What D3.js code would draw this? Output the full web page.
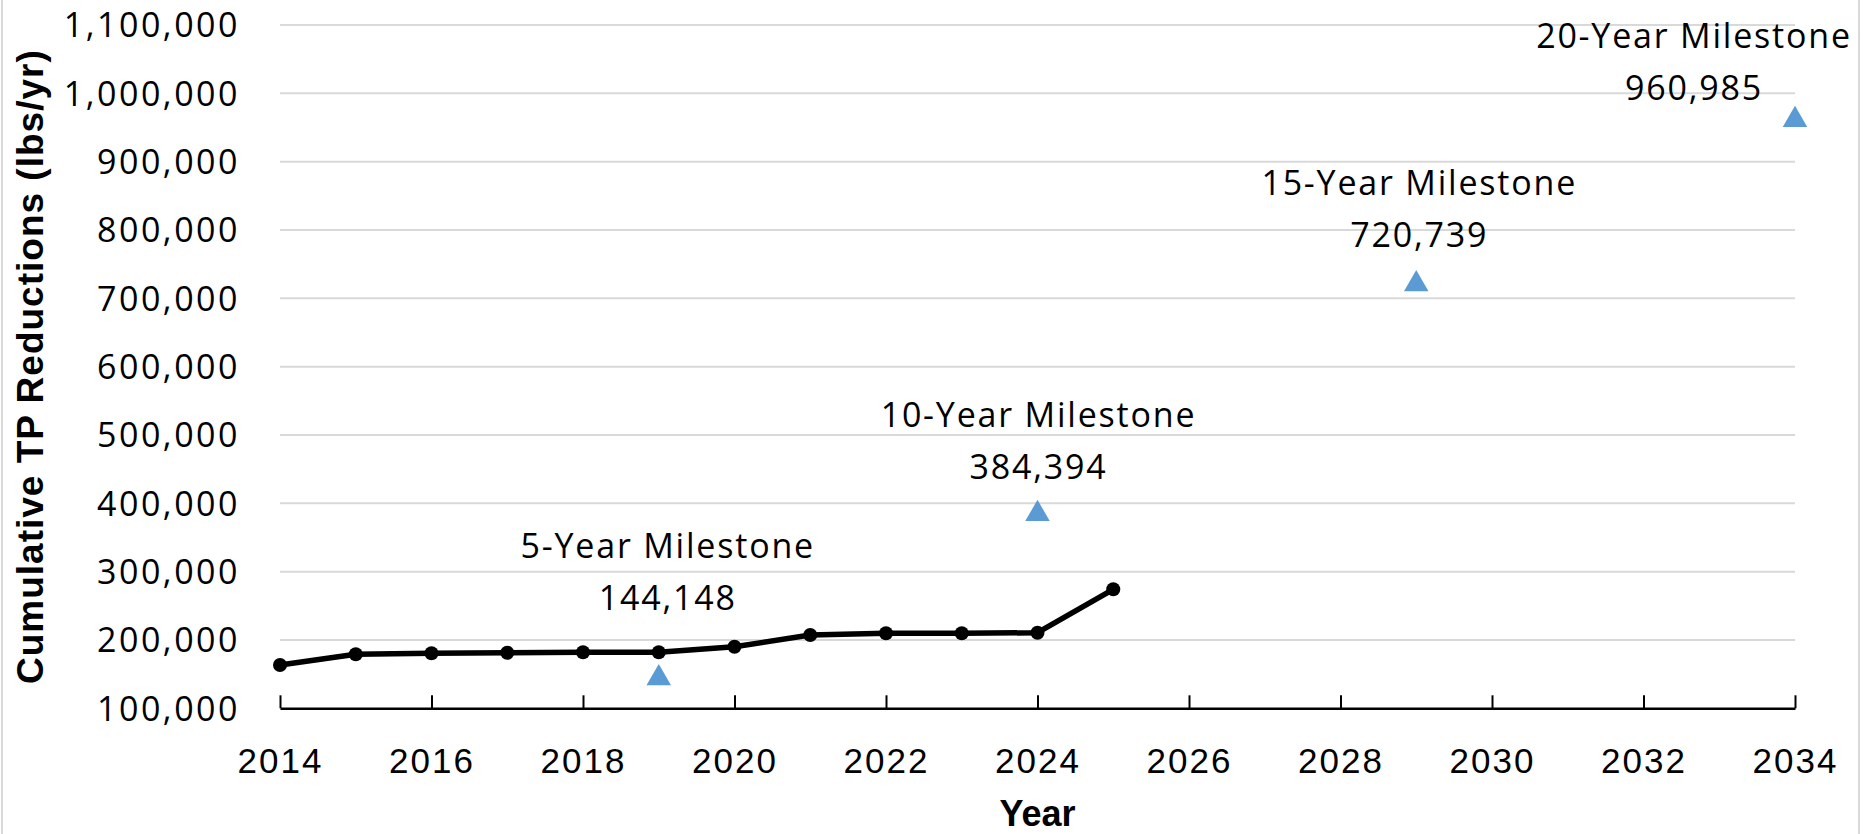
<!DOCTYPE html>
<html>
<head>
<meta charset="utf-8">
<script src="https://cdn.jsdelivr.net/npm/d3@7"></script>
<style>
  html, body { margin: 0; padding: 0; background: #fff; }
  svg { display: block; }
</style>
</head>
<body>
<svg id="chart" width="1867" height="834"></svg>
<script>
// ---- Data ----
const years = [2014, 2015, 2016, 2017, 2018, 2019, 2020, 2021, 2022, 2023, 2024, 2025];
const cumulativeTP = [163400, 179000, 180500, 181400, 182000, 182000, 190100, 207300, 209800, 209800, 210600, 274200];
const milestoneYears = [2019, 2024, 2029, 2034];
const milestoneValues = [144148, 384394, 720739, 960985];
const milestoneNames = ["5-Year Milestone", "10-Year Milestone", "15-Year Milestone", "20-Year Milestone"];
const xTicks = [2014, 2016, 2018, 2020, 2022, 2024, 2026, 2028, 2030, 2032, 2034];
const yTicks = [100000, 200000, 300000, 400000, 500000, 600000, 700000, 800000, 900000, 1000000, 1100000];

// label placement (layout only)
const labelDx = [9, 1, 3, -101];
const labelDy = [68, 35, 37, 20];

// ---- Layout ----
const svg = d3.select("#chart");
const W = 1867, H = 834;
const mLeft = 280, mRight = 1795, mTop = 25, mBottom = 708.3;

const x = d3.scaleLinear().domain([2014, 2034]).range([mLeft, mRight]);
const y = d3.scaleLinear().domain([100000, 1100000]).range([mBottom, mTop]);

// outer border lines
svg.append("line").attr("x1", 2).attr("x2", 2).attr("y1", 0).attr("y2", H)
  .attr("stroke", "#d9d9d9").attr("stroke-width", 2);
svg.append("line").attr("x1", 1859).attr("x2", 1859).attr("y1", 0).attr("y2", H)
  .attr("stroke", "#d9d9d9").attr("stroke-width", 2);

// gridlines
svg.append("g").selectAll("line")
  .data(yTicks.filter(d => d > 100000))
  .join("line")
  .attr("x1", mLeft).attr("x2", mRight)
  .attr("y1", d => y(d)).attr("y2", d => y(d))
  .attr("stroke", "#d9d9d9").attr("stroke-width", 2);

// y axis (labels only)
const yAxis = d3.axisLeft(y).tickValues(yTicks).tickSize(0).tickPadding(40)
  .tickFormat(d3.format(","));
const gy = svg.append("g").attr("transform", `translate(${mLeft},0)`).call(yAxis);
gy.select(".domain").remove();
gy.selectAll("text")
  .attr("font-family", "'Open Sans', sans-serif")
  .attr("font-size", 34)
  .attr("letter-spacing", 2.5)
  .attr("fill", "#000")
  .attr("dy", "0.35em");

// x axis
const xAxis = d3.axisBottom(x).tickValues(xTicks).tickSize(0).tickPadding(0)
  .tickFormat(d3.format("d"));
const gx = svg.append("g").attr("transform", `translate(0,${mBottom})`).call(xAxis);
gx.select(".domain").attr("stroke", "#000").attr("stroke-width", 2.5);
gx.selectAll(".tick line").attr("y1", 0).attr("y2", -13).attr("stroke", "#000").attr("stroke-width", 2);
gx.selectAll("text")
  .attr("font-family", "'Liberation Sans', Arial, sans-serif")
  .attr("font-size", 35)
  .attr("letter-spacing", 2)
  .attr("fill", "#000")
  .attr("y", 65)
  .attr("dy", 0);

// axis titles
svg.append("text")
  .attr("transform", `translate(43,${(mTop + mBottom) / 2}) rotate(-90)`)
  .attr("text-anchor", "middle")
  .attr("font-family", "'Liberation Sans', Arial, sans-serif")
  .attr("font-weight", "bold")
  .attr("font-size", 37)
  .attr("letter-spacing", 1)
  .text("Cumulative TP Reductions (lbs/yr)");

svg.append("text")
  .attr("x", (mLeft + mRight) / 2)
  .attr("y", 826)
  .attr("text-anchor", "middle")
  .attr("font-family", "'Liberation Sans', Arial, sans-serif")
  .attr("font-weight", "bold")
  .attr("font-size", 36)
  .text("Year");

// line series
const lineData = years.map((yr, i) => ({ yr, v: cumulativeTP[i] }));
svg.append("path")
  .datum(lineData)
  .attr("fill", "none")
  .attr("stroke", "#000")
  .attr("stroke-width", 5.5)
  .attr("stroke-linejoin", "round")
  .attr("d", d3.line().x(d => x(d.yr)).y(d => y(d.v)));

svg.append("g").selectAll("circle")
  .data(lineData)
  .join("circle")
  .attr("cx", d => x(d.yr)).attr("cy", d => y(d.v)).attr("r", 7)
  .attr("fill", "#000");

// milestones
const ms = milestoneYears.map((yr, i) => ({ yr, v: milestoneValues[i], name: milestoneNames[i], dx: labelDx[i], dy: labelDy[i] }));
const tri = d3.symbol().type(d3.symbolTriangle).size(260);
svg.append("g").selectAll("path")
  .data(ms)
  .join("path")
  .attr("transform", d => `translate(${x(d.yr)},${y(d.v)})`)
  .attr("d", tri)
  .attr("fill", "#5B9BD5");

const lbl = svg.append("g").selectAll("text")
  .data(ms)
  .join("text")
  .attr("text-anchor", "middle")
  .attr("font-family", "'Open Sans', sans-serif")
  .attr("font-size", 34)
  .attr("letter-spacing", 1.8)
  .attr("fill", "#000");
lbl.append("tspan")
  .attr("x", d => x(d.yr) + d.dx)
  .attr("y", d => y(d.v) - d.dy - 52)
  .text(d => d.name);
lbl.append("tspan")
  .attr("x", d => x(d.yr) + d.dx)
  .attr("y", d => y(d.v) - d.dy)
  .text(d => d3.format(",")(d.v));
</script>
</body>
</html>
